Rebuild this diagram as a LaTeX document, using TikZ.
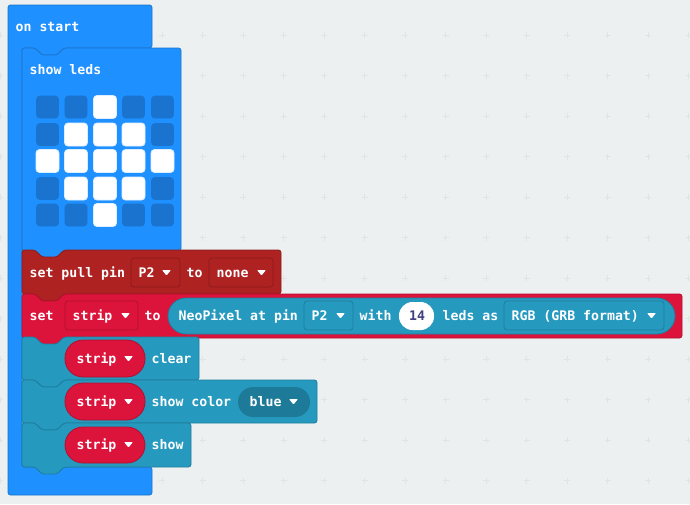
\documentclass[tikz,border=0pt]{standalone}
\usepackage{fontspec}
\setmonofont{DejaVu Sans Mono}
\usepackage{tikz}
\usetikzlibrary{calc}

\definecolor{canvasbg}{HTML}{ECF0F1}
\definecolor{plusmark}{HTML}{DFE4E6}
\definecolor{basicblue}{HTML}{1E90FF}
\definecolor{basicedge}{HTML}{1B76CC}
\definecolor{ledoff}{HTML}{1A73CE}
\definecolor{pinred}{HTML}{AE2222}
\definecolor{pinedge}{HTML}{8C1C1C}
\definecolor{varred}{HTML}{DC143C}
\definecolor{varedge}{HTML}{B01030}
\definecolor{neoteal}{HTML}{2699BF}
\definecolor{neoedge}{HTML}{1E7D9C}
\definecolor{neodark}{HTML}{1E7A99}

% x y width height fill edge
\newcommand{\stackblock}[6]{
  \draw[rounded corners=2.5pt, fill=#5, draw=#6, line width=0.8pt]
    (#1,#2) -- ++(13,0) -- ++(7,7) -- ++(15,0) -- ++(7,-7) -- (#1+#3,#2)
    -- (#1+#3,#2+#4) -- (#1+42,#2+#4) -- ++(-7,7) -- ++(-15,0) -- ++(-7,-7)
    -- (#1,#2+#4) -- cycle;
}
% x y name
\newcommand{\ledoff}[3]{\node[led, fill=ledoff, draw=ledoff] (#3) at (#1,#2) {};}
\newcommand{\ledon}[3]{\node[led, minimum size=23pt, fill=white, draw=white!85!basicblue] (#3) at (#1,#2) {};}
% x y : small dropdown triangle
\newcommand{\droptip}[2]{
  \fill[white, rounded corners=0.8pt] (#1,#2) -- ++(9,0) -- ++(-4.5,5.5) -- cycle;
}

\begin{document}
\begin{tikzpicture}[x=1pt, y=-1pt,
  lbl/.style={anchor=base west, inner sep=0pt, text=white, font=\fontsize{13.2}{13.2}\ttfamily\bfseries},
  led/.style={rectangle, rounded corners=3.5pt, minimum size=22pt, inner sep=0pt, line width=0.8pt},
  field/.style={rounded corners=3pt, line width=0.8pt}]
  \useasboundingbox (0,0) rectangle (690,504);
  \fill[canvasbg] (0,0) rectangle (690,504);

  % grid marks
  \foreach \i in {0,...,17}
    \foreach \j in {0,...,11}
      \draw[plusmark, line width=0.8pt]
        ({40.5*\i-3},{35+40.5*\j}) -- ++(6,0) ({40.5*\i},{35+40.5*\j-3}) -- ++(0,6);

  % outer block
  \draw[rounded corners=2.5pt, fill=basicblue, draw=basicedge, line width=0.8pt]
    (8,5) -- (152,5) -- (152,48) -- (64,48) -- (57,55) -- (42,55) -- (35,48) -- (22,48)
    -- (22,467) -- (152,467) -- (152,495) -- (8,495) -- cycle;
  \node[lbl] (onstart) at (15.5,31) {on start};

  \stackblock{22}{48}{159}{203}{basicblue}{basicedge}
  \node[lbl] (showleds) at (29.5,74) {show leds};

  \ledoff{47.5}{107}{a1} \ledoff{76}{107}{a2} \ledon{105}{107}{a3} \ledoff{133.5}{107}{a4} \ledoff{162.5}{107}{a5}
  \ledoff{47.5}{134.5}{b1} \ledon{76}{134.5}{b2} \ledon{105}{134.5}{b3} \ledon{133.5}{134.5}{b4} \ledoff{162.5}{134.5}{b5}
  \ledon{47.5}{161}{c1} \ledon{76}{161}{c2} \ledon{105}{161}{c3} \ledon{133.5}{161}{c4} \ledon{162.5}{161}{c5}
  \ledoff{47.5}{188.5}{d1} \ledon{76}{188.5}{d2} \ledon{105}{188.5}{d3} \ledon{133.5}{188.5}{d4} \ledoff{162.5}{188.5}{d5}
  \ledoff{47.5}{215}{e1} \ledoff{76}{215}{e2} \ledon{105}{215}{e3} \ledoff{133.5}{215}{e4} \ledoff{162.5}{215}{e5}

  % pull pin
  \stackblock{22}{250}{259}{44}{pinred}{pinedge}
  \node[lbl] (pulltxt) at (29.5,277) {set pull pin};
  \draw[field, draw=pinedge] (131,258) rectangle (180,287);
  \node[lbl] (pullpin) at (138.5,277) {P2};
  \droptip{162}{270}
  \node[lbl] (pullto) at (186.5,277) {to};
  \draw[field, draw=pinedge] (209,258) rectangle (273,287);
  \node[lbl] (pullmode) at (216.5,277) {none};
  \droptip{257}{270}

  % set strip
  \stackblock{22}{294}{660}{44}{varred}{varedge}
  \node[lbl] (settxt) at (29.5,320) {set};
  \draw[field, draw=varedge] (65,301) rectangle (138,330);
  \node[lbl] (setvar) at (72.5,320) {strip};
  \droptip{121}{313}
  \node[lbl] (setto) at (144.5,320) {to};

  \draw[fill=neoteal, draw=neoedge, line width=0.8pt, rounded corners=18pt]
    (168,298) rectangle (675,334);
  \node[lbl] (neotxt) at (178.5,320) {NeoPixel at pin};
  \draw[field, draw=neoedge] (304,301) rectangle (353,330);
  \node[lbl] (neopin) at (311.5,320) {P2};
  \droptip{336}{313}
  \node[lbl] (withtxt) at (359.5,320) {with};
  \fill[white, rounded corners=13.5pt] (399,302) rectangle (434,330);
  \node[lbl, text=black!65!blue!75] (ledcount) at (409,320) {14};
  \node[lbl] (ledstxt) at (442.5,320) {leds as};
  \draw[field, draw=neoedge] (504,301) rectangle (664,330);
  \node[lbl] (rgbtxt) at (511.5,320) {RGB (GRB format)};
  \droptip{647}{313}

  % clear
  \stackblock{22}{337}{177}{43}{neoteal}{neoedge}
  \draw[fill=varred, draw=varedge, line width=0.8pt, rounded corners=18pt] (65,340) rectangle (145,377);
  \node[lbl] (stripa) at (76.5,363) {strip};
  \droptip{124}{356}
  \node[lbl] (cleartxt) at (151.5,363) {clear};

  % show color
  \stackblock{22}{380}{295}{43}{neoteal}{neoedge}
  \draw[fill=varred, draw=varedge, line width=0.8pt, rounded corners=18pt] (65,383) rectangle (145,420);
  \node[lbl] (stripb) at (76.5,406) {strip};
  \droptip{124}{399}
  \node[lbl] (colortxt) at (151.5,406) {show color};
  \fill[neodark, rounded corners=15pt] (238,387) rectangle (310,417);
  \node[lbl] (bluetxt) at (249.5,406) {blue};
  \droptip{289}{399}

  % show
  \stackblock{22}{423}{169}{44}{neoteal}{neoedge}
  \draw[fill=varred, draw=varedge, line width=0.8pt, rounded corners=18pt] (65,427) rectangle (145,463);
  \node[lbl] (stripc) at (76.5,449) {strip};
  \droptip{124}{442}
  \node[lbl] (showtxt) at (151.5,449) {show};
\end{tikzpicture}
\end{document}
